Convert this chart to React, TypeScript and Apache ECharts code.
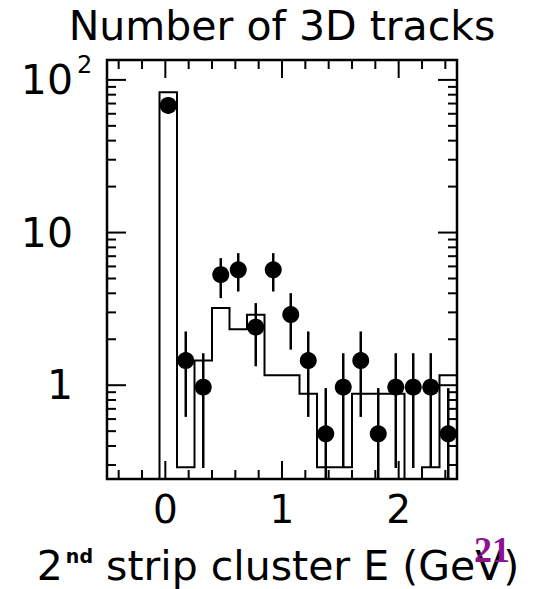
import React, { useEffect, useRef } from 'react';
import * as echarts from 'echarts';

// ---- data ----
const binCenters = [0.025, 0.175, 0.325, 0.475, 0.625, 0.775, 0.925, 1.075, 1.225, 1.375, 1.525, 1.675, 1.825, 1.975, 2.125, 2.275, 2.425];
const BIN_WIDTH = 0.15;
const dataValues = [68, 1.45, 0.97, 5.3, 5.7, 2.4, 5.7, 2.9, 1.45, 0.48, 0.97, 1.45, 0.48, 0.97, 0.97, 0.97, 0.48];
const errLow = [60, 0.62, 0.287, 3.72, 4.11, 1.33, 4.11, 1.71, 0.62, 0.1, 0.287, 0.62, 0.1, 0.287, 0.287, 0.287, 0.1];
const errHigh = [76, 2.25, 1.62, 6.8, 7.33, 3.45, 7.33, 4.01, 2.25, 0.957, 1.62, 2.25, 0.957, 1.62, 1.62, 1.62, 0.957];
const mcValues = [83, 0.29, 1.45, 3.2, 2.33, 2.89, 1.16, 1.16, 0.88, 0.29, 0.29, 0.88, 0.88, 0.88, 0, 0.29, 1.16];

const xTickValues = [-0.4, -0.2, 0, 0.2, 0.4, 0.6, 0.8, 1, 1.2, 1.4, 1.6, 1.8, 2, 2.2, 2.4];
const xMajorValues = [0, 1, 2];
const xLabelValues = [0, 1, 2];
const xLabelTexts = ['0', '1', '2'];

const yMajorTicks = [1, 10, 100];
const yMinorTicks = [0.3, 0.4, 0.5, 0.6, 0.7, 0.8, 0.9, 2, 3, 4, 5, 6, 7, 8, 9, 20, 30, 40, 50, 60, 70, 80, 90];
const yLabelValues = [1, 10, 100];
const yLabelBases = ['1', '10', '10'];
const yLabelExps = ['', '', '2'];

const titleText = 'Number of 3D tracks';
const xTitleMain = '2';
const xTitleSup = 'nd';
const xTitleRest = ' strip cluster E (GeV)';
const pageNumber = '21';

const FONT = '"DejaVu Sans", "Liberation Sans", sans-serif';

function measure(text: string, size: number, weight = 'normal') {
  const c = document.createElement('canvas').getContext('2d');
  if (!c) return text.length * size * 0.6;
  c.font = `${weight} ${size}px "DejaVu Sans"`;
  return c.measureText(text).width;
}

export default function App() {
  const ref = useRef<HTMLDivElement>(null);
  useEffect(() => {
    if (!ref.current) return;
    const chart = echarts.init(ref.current, undefined, { renderer: 'svg' });

    const tickData: number[][] = [];
    xTickValues.forEach((v) => tickData.push([v, 1, xMajorValues.includes(v) ? 1 : 0]));
    yMinorTicks.forEach((v) => tickData.push([0, v, 2]));
    yMajorTicks.forEach((v) => tickData.push([0, v, 3]));

    const lineStyle = { stroke: '#000', lineWidth: 2 };

    const gap = 3;
    const wMain = measure(xTitleMain, 41);
    const wSup = measure(xTitleSup, 19, 'bold');
    const wRest = measure(xTitleRest, 41);
    const total = wMain + gap + wSup + wRest;
    const startX = 278 - total / 2;

    chart.setOption({
      animation: false,
      grid: {
        left: 107,
        top: 60,
        right: 80,
        bottom: 110,
        show: true,
        borderColor: '#000',
        borderWidth: 2.5,
        backgroundColor: 'transparent',
      },
      xAxis: {
        type: 'value',
        min: -0.5,
        max: 2.5,
        interval: 0.5,
        axisLine: { show: false },
        axisTick: { show: false },
        splitLine: { show: false },
        axisLabel: {
          margin: 30,
          verticalAlign: 'middle',
          fontSize: 39,
          fontFamily: FONT,
          color: '#000',
          formatter: (v: number) => {
            const i = xLabelValues.findIndex((t) => Math.abs(t - v) < 1e-6);
            return i >= 0 ? xLabelTexts[i] : '';
          },
        },
      },
      yAxis: {
        type: 'log',
        logBase: 10,
        min: 0.243,
        max: 135,
        axisLine: { show: false },
        axisTick: { show: false },
        splitLine: { show: false },
        axisLabel: { show: false },
      },
      graphic: [
        {
          type: 'text',
          x: 282,
          y: 26,
          style: { text: titleText, fontSize: 41, lineHeight: 36, fontFamily: FONT, fill: '#000', align: 'center', verticalAlign: 'middle' },
        },
        {
          type: 'text',
          x: startX,
          y: 566,
          style: { text: xTitleMain, fontSize: 41, fontFamily: FONT, fill: '#000', align: 'left', verticalAlign: 'middle' },
        },
        {
          type: 'text',
          x: startX + wMain + gap,
          y: 555.5,
          style: { text: xTitleSup, fontSize: 19, fontWeight: 'bold', fontFamily: FONT, fill: '#000', align: 'left', verticalAlign: 'middle' },
        },
        {
          type: 'text',
          x: startX + wMain + gap + wSup,
          y: 566,
          style: { text: xTitleRest, fontSize: 41, fontFamily: FONT, fill: '#000', align: 'left', verticalAlign: 'middle' },
        },
        {
          type: 'text',
          x: 492,
          y: 550,
          z: 100,
          style: {
            text: pageNumber,
            fontSize: 36,
            fontWeight: 'bold',
            fontFamily: '"Liberation Serif", "DejaVu Serif", serif',
            fill: '#8e1190',
            align: 'center',
            verticalAlign: 'middle',
          },
        },
      ],
      series: [
        {
          type: 'custom',
          name: 'mc',
          clip: true,
          data: [[0, 1]],
          renderItem: (params: any, api: any) => {
            const cs = params.coordSys;
            const bottom = cs.y + cs.height;
            const yPix = (v: number) => (v > 0 ? api.coord([0, v])[1] : bottom);
            const pts: number[][] = [];
            binCenters.forEach((c, i) => {
              const x0 = api.coord([c - BIN_WIDTH / 2, 1])[0];
              const x1 = api.coord([c + BIN_WIDTH / 2, 1])[0];
              const y = yPix(mcValues[i]);
              if (i === 0) pts.push([x0, bottom]);
              pts.push([x0, y]);
              pts.push([x1, y]);
              if (i === binCenters.length - 1) pts.push([x1, bottom]);
            });
            return { type: 'polyline', shape: { points: pts }, style: { stroke: '#000', lineWidth: 2, fill: 'none' } };
          },
          z: 2,
        },
        {
          type: 'custom',
          name: 'errors',
          clip: true,
          data: binCenters.map((c, i) => [c, errLow[i], errHigh[i]]),
          encode: { x: 0, y: [1, 2] },
          renderItem: (params: any, api: any) => {
            const x = api.value(0);
            const p1 = api.coord([x, api.value(1)]);
            const p2 = api.coord([x, api.value(2)]);
            return {
              type: 'line',
              shape: { x1: p1[0], y1: p1[1], x2: p2[0], y2: p2[1] },
              style: { stroke: '#000', lineWidth: 2.5 },
            };
          },
          z: 3,
        },
        {
          type: 'scatter',
          name: 'data',
          symbol: 'circle',
          symbolSize: 17,
          itemStyle: { color: '#000', opacity: 1 },
          data: binCenters.map((c, i) => [c, dataValues[i]]),
          z: 4,
        },
        {
          type: 'custom',
          name: 'ticks',
          clip: false,
          data: tickData,
          dimensions: ['x', 'y', 'k'],
          encode: { x: 0, y: 1 },
          renderItem: (params: any, api: any) => {
            const cs = params.coordSys;
            const k = api.value(2);
            if (k < 2) {
              const px = api.coord([api.value(0), 1])[0];
              const len = k === 1 ? 18 : 9;
              return {
                type: 'group',
                children: [
                  { type: 'line', shape: { x1: px, y1: cs.y + cs.height, x2: px, y2: cs.y + cs.height - len }, style: lineStyle },
                  { type: 'line', shape: { x1: px, y1: cs.y, x2: px, y2: cs.y + len }, style: lineStyle },
                ],
              };
            }
            const py = api.coord([0, api.value(1)])[1];
            const len = k === 3 ? 19 : 9;
            return {
              type: 'group',
              children: [
                { type: 'line', shape: { x1: cs.x, y1: py, x2: cs.x + len, y2: py }, style: lineStyle },
                { type: 'line', shape: { x1: cs.x + cs.width, y1: py, x2: cs.x + cs.width - len, y2: py }, style: lineStyle },
              ],
            };
          },
          z: 5,
        },
        {
          type: 'custom',
          name: 'ylabels',
          clip: false,
          data: yLabelValues.map((v, i) => [0, v, i]),
          dimensions: ['x', 'y', 'i'],
          encode: { x: 0, y: 1 },
          renderItem: (params: any, api: any) => {
            const cs = params.coordSys;
            const i = api.value(2);
            const py = api.coord([0, api.value(1)])[1];
            const ax = cs.x - 34;
            const children: any[] = [
              {
                type: 'text',
                style: { text: yLabelBases[i], x: ax, y: py, fontSize: 41, lineHeight: 36, fontFamily: FONT, fill: '#000', align: 'right', verticalAlign: 'middle' },
              },
            ];
            if (yLabelExps[i]) {
              children.push({
                type: 'text',
                style: { text: yLabelExps[i], x: ax + 4, y: py - 15, fontSize: 24, lineHeight: 22, fontFamily: FONT, fill: '#000', align: 'left', verticalAlign: 'middle' },
              });
            }
            return { type: 'group', children };
          },
          z: 5,
        },
      ],
    });
    return () => chart.dispose();
  }, []);
  return <div ref={ref} style={{ position: 'absolute', left: 0, top: 0, width: 537, height: 589 }} />;
}
